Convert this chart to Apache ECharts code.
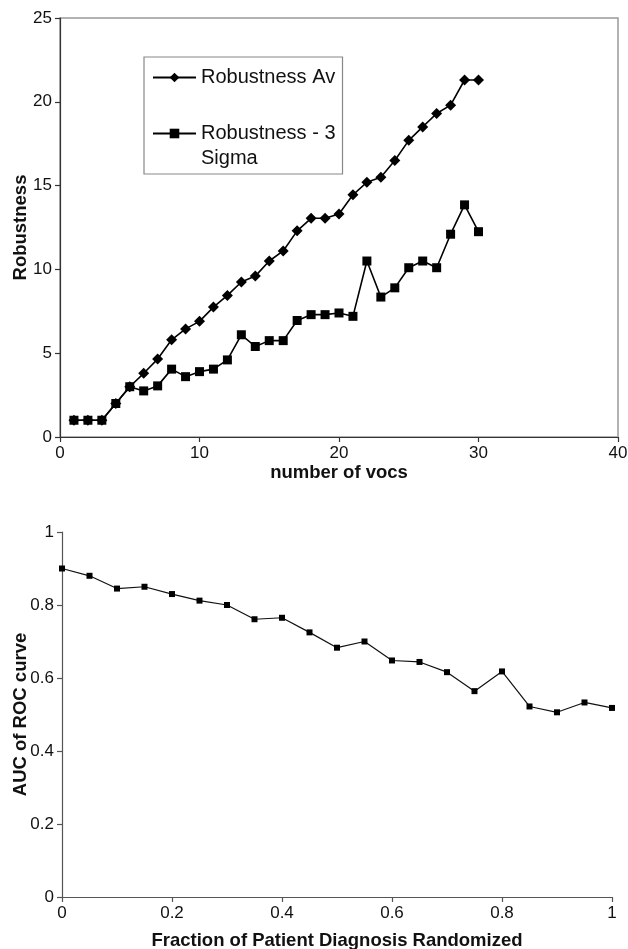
<!DOCTYPE html>
<html><head><meta charset="utf-8">
<script src="https://cdn.jsdelivr.net/npm/echarts@6/dist/echarts.min.js"></script>
<style>html,body{margin:0;padding:0;background:#fff}#c{width:628px;height:949px}</style>
</head><body><div id="c"></div>
<script>
// Top chart data
const vocs = [1,2,3,4,5,6,7,8,9,10,11,12,13,14,15,16,17,18,19,20,21,22,23,24,25,26,27,28,29,30];
const robustnessAv = [1,1,1,2,3,3.8,4.65,5.8,6.45,6.9,7.75,8.45,9.25,9.6,10.5,11.1,12.3,13.05,13.05,13.3,14.45,15.2,15.5,16.5,17.7,18.5,19.3,19.8,21.3,21.3];
const robustness3Sigma = [1,1,1,2,3,2.75,3.05,4.05,3.6,3.9,4.05,4.6,6.1,5.4,5.75,5.75,6.95,7.3,7.3,7.4,7.2,10.5,8.35,8.9,10.1,10.5,10.1,12.1,13.85,12.25];
// Bottom chart data
const fractionRandomized = [0,0.05,0.1,0.15,0.2,0.25,0.3,0.35,0.4,0.45,0.5,0.55,0.6,0.65,0.7,0.75,0.8,0.85,0.9,0.95,1];
const aucROC = [0.9,0.88,0.845,0.85,0.83,0.812,0.8,0.761,0.765,0.725,0.683,0.7,0.648,0.644,0.616,0.564,0.618,0.522,0.506,0.533,0.518];

const FONT = "'Liberation Sans', Arial, sans-serif";
const pair = (xs, ys) => xs.map((x, i) => [x, ys[i]]);

const chart = echarts.init(document.getElementById('c'), null, {renderer: 'canvas'});
const axisCommon = (color) => ({
  axisLine: {show: true, onZero: false, lineStyle: {color: color, width: 1.2}},
  axisTick: {show: true, inside: false, length: 5, lineStyle: {color: color, width: 1.2}},
  splitLine: {show: false},
  axisLabel: {color: '#111', fontFamily: FONT, fontSize: 17, margin: 8},
  nameTextStyle: {color: '#111', fontFamily: FONT, fontSize: 18.5, fontWeight: 'bold'},
  nameLocation: 'middle',
  nameMoveOverlap: false
});

chart.setOption({
  animation: false,
  backgroundColor: '#fff',
  textStyle: {fontFamily: FONT},
  grid: [
    {left: 60, right: 10, top: 18, bottom: 512, show: true, borderColor: '#999', borderWidth: 1.5, backgroundColor: 'transparent', outerBoundsMode: 'none', containLabel: false},
    {left: 62, right: 16, top: 532, bottom: 52, outerBoundsMode: 'none', containLabel: false}
  ],
  xAxis: [
    Object.assign(axisCommon('#333'), {gridIndex: 0, type: 'value', min: 0, max: 40, interval: 10, name: 'number of vocs', nameGap: 26}),
    Object.assign(axisCommon('#555'), {gridIndex: 1, type: 'value', min: 0, max: 1, interval: 0.2, name: 'Fraction of Patient Diagnosis Randomized', nameGap: 34})
  ],
  yAxis: [
    Object.assign(axisCommon('#333'), {gridIndex: 0, type: 'value', min: 0, max: 25, interval: 5, name: 'Robustness', nameGap: 30}),
    Object.assign(axisCommon('#555'), {gridIndex: 1, type: 'value', min: 0, max: 1, interval: 0.2, name: 'AUC of ROC curve', nameGap: 32})
  ],
  legend: {
    orient: 'vertical',
    left: 144, top: 57,
    padding: [8, 7, 3, 8],
    itemGap: 6,
    itemWidth: 43, itemHeight: 12,
    borderColor: '#888', borderWidth: 1.2,
    textStyle: {color: '#111', fontFamily: FONT, fontSize: 20, lineHeight: 25},
    data: ['Robustness Av', 'Robustness - 3 Sigma'],
    formatter: n => n === 'Robustness - 3 Sigma' ? ' \nRobustness - 3\nSigma' : n
  },
  series: [
    {name: 'Robustness Av', type: 'line', xAxisIndex: 0, yAxisIndex: 0, data: pair(vocs, robustnessAv),
     symbol: 'diamond', symbolSize: 11, lineStyle: {color: '#000', width: 1.6}, itemStyle: {color: '#000'}},
    {name: 'Robustness - 3 Sigma', type: 'line', xAxisIndex: 0, yAxisIndex: 0, data: pair(vocs, robustness3Sigma),
     symbol: 'rect', symbolSize: 9, lineStyle: {color: '#000', width: 1.6}, itemStyle: {color: '#000'}},
    {name: 'AUC', type: 'line', xAxisIndex: 1, yAxisIndex: 1, data: pair(fractionRandomized, aucROC),
     symbol: 'rect', symbolSize: 6, lineStyle: {color: '#111', width: 1.2}, itemStyle: {color: '#000'}}
  ]
});
</script></body></html>
